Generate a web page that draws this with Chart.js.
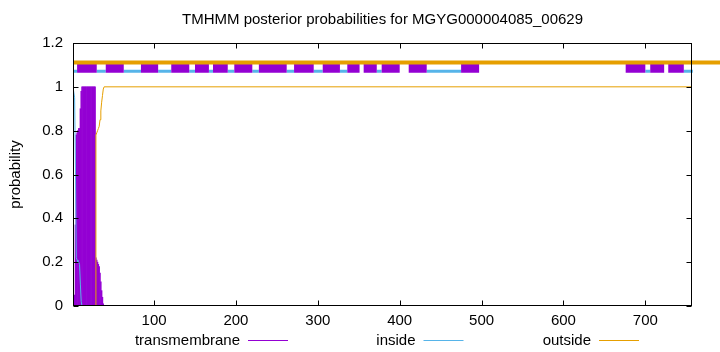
<!DOCTYPE html>
<html>
<head>
<meta charset="utf-8">
<script src="https://cdn.jsdelivr.net/npm/chart.js@4"></script>
<style>
  html, body { margin: 0; padding: 0; background: #fff; }
  #wrap { width: 720px; height: 352px; position: relative; }
</style>
</head>
<body>
<div id="wrap"><canvas id="tmhmmChart"></canvas></div>
<script>
// posterior probabilities, residue positions
const tmResidues = [1, 2, 3, 4, 5, 6, 7, 8, 9, 10, 11, 12, 13, 14, 15, 16, 17, 18, 19, 20,
    21, 22, 23, 24, 25, 26, 27, 28, 29, 30, 31, 32, 33, 34, 35, 36, 37, 38, 39, 40];
const tmProb = [0, 0.02, 0.05, 0.37, 0.78, 0.79, 0.8, 0.81, 0.81, 0.9, 0.98, 1, 1, 1, 1, 1, 1, 1, 1, 1,
    1, 1, 1, 1, 1, 1, 1, 1, 0.22, 0.21, 0.2, 0.19, 0.18, 0.15, 0.11, 0.07, 0.04, 0.01, 0, 0];

const insideX = [1, 2, 3, 4, 5, 6, 7, 8, 9, 10, 11, 12, 757];
const insideProb = [1, 1, 0.95, 0.63, 0.22, 0.21, 0.2, 0.2, 0.19, 0.1, 0.02, 0, 0];

const outsideX = [1, 28, 29, 30, 31, 32, 33, 34, 35, 36, 37, 38, 39, 757];
const outsideProb = [0, 0, 0.78, 0.79, 0.8, 0.81, 0.82, 0.85, 0.89, 0.93, 0.96, 0.99, 1, 1];

// predicted topology strips at the top
const tmSegments = [[6, 30], [41, 63], [84, 105], [121, 143], [150, 167], [172, 190], [198, 220],
    [228, 262], [271, 295], [306, 327], [336, 351], [356, 372], [378, 400], [411, 433], [475, 497],
    [676, 700], [706, 723], [728, 747], [758, 777], [781, 800]];
const insideSegments = [[1, 6], [30, 41], [63, 84], [105, 121], [143, 150], [167, 172], [190, 198],
    [220, 228], [262, 271], [295, 306], [327, 336], [372, 378], [433, 475], [700, 706], [747, 758]];
const outsideSegments = [[1, 800]];

const xTicks = [100, 200, 300, 400, 500, 600, 700];
const yTicks = [0, 0.2, 0.4, 0.6, 0.8, 1, 1.2];
const legendLabels = ["transmembrane", "inside", "outside"];
const chartTitle = "TMHMM posterior probabilities for MGYG000004085_00629";

const PURPLE = "#9400d3", BLUE = "#56b4e9", ORANGE = "#e69f00";
const FONT = { family: "'Liberation Sans', Arial, sans-serif", size: 15 };

function pairs(xs, ys) {
    return xs.map((x, i) => ({ x: x, y: ys[i] }));
}

function strip(segs, level) {
    const pts = [];
    segs.forEach(([a, b]) => {
        pts.push({ x: a, y: level }, { x: b, y: level }, { x: b, y: null });
    });
    return pts;
}

const gnuplotFrame = {
    id: "gnuplotFrame",
    afterDatasetsDraw(chart) {
        const { ctx, chartArea: ca, scales } = chart;
        const l = Math.round(ca.left) + 0.5, r = Math.round(ca.right) - 0.5;
        const t = Math.round(ca.top) + 0.5, b = Math.round(ca.bottom) - 0.5;
        ctx.save();
        ctx.strokeStyle = "#000";
        ctx.lineWidth = 1;
        ctx.beginPath();
        yTicks.forEach(v => {
            const y = Math.round(scales.y.getPixelForValue(v)) + 0.5;
            ctx.moveTo(l, y); ctx.lineTo(l + 5, y);
            ctx.moveTo(r, y); ctx.lineTo(r - 5, y);
        });
        xTicks.forEach(v => {
            const x = Math.round(scales.x.getPixelForValue(v)) + 0.5;
            ctx.moveTo(x, b); ctx.lineTo(x, b - 5);
            ctx.moveTo(x, t); ctx.lineTo(x, t + 5);
        });
        ctx.stroke();
        ctx.strokeRect(l, t, r - l, b - t);
        ctx.restore();
    },
    afterDraw(chart) {
        const { ctx, chartArea: ca } = chart;
        const colors = [PURPLE, BLUE, ORANGE];
        ctx.save();
        ctx.font = FONT.size + "px " + FONT.family;
        ctx.fillStyle = "#000";
        ctx.textAlign = "center";
        ctx.textBaseline = "middle";
        ctx.fillText(chartTitle, (ca.left + ca.right) / 2, 20);
        ctx.textAlign = "right";
        legendLabels.forEach((label, i) => {
            const x0 = 248 + i * 175.5;
            ctx.fillStyle = "#000";
            ctx.fillText(label, x0 - 8, 341);
            ctx.strokeStyle = colors[i];
            ctx.lineWidth = 1;
            ctx.beginPath();
            ctx.moveTo(x0, 340.5);
            ctx.lineTo(x0 + 40, 340.5);
            ctx.stroke();
        });
        ctx.restore();
    }
};

const ctx = document.getElementById("tmhmmChart").getContext("2d");

new Chart(ctx, {
    type: "line",
    data: {
        datasets: [
            {
                label: "outside strip",
                data: strip(outsideSegments, 1.111),
                borderColor: ORANGE, borderWidth: 4, borderCapStyle: "butt",
                pointRadius: 0, spanGaps: false, clip: false, order: 3
            },
            {
                label: "tm strip",
                data: strip(tmSegments, 1.085),
                borderColor: PURPLE, borderWidth: 9, borderCapStyle: "butt",
                pointRadius: 0, spanGaps: false, clip: false, order: 4
            },
            {
                label: "inside strip",
                data: strip(insideSegments, 1.071),
                borderColor: BLUE, borderWidth: 3, borderCapStyle: "butt",
                pointRadius: 0, spanGaps: false, clip: false, order: 5
            },
            {
                label: "outside",
                data: pairs(outsideX, outsideProb),
                borderColor: ORANGE, borderWidth: 1, pointRadius: 0, order: 6
            },
            {
                label: "inside",
                data: pairs(insideX, insideProb),
                borderColor: BLUE, borderWidth: 1, pointRadius: 0, order: 7
            },
            {
                type: "bar",
                label: "transmembrane",
                data: pairs(tmResidues, tmProb),
                backgroundColor: PURPLE,
                barPercentage: 1, categoryPercentage: 1, order: 8
            }
        ]
    },
    options: {
        responsive: true,
        maintainAspectRatio: false,
        animation: false,
        layout: { padding: { left: 0, right: 28, top: 43, bottom: 0 } },
        plugins: {
            legend: { display: false },
            tooltip: { enabled: false },
            title: { display: false }
        },
        scales: {
            x: {
                type: "linear", min: 1, max: 757, offset: false,
                grid: { display: false, drawTicks: false },
                border: { display: false },
                ticks: { color: "#000", font: FONT, padding: 6, maxRotation: 0, autoSkip: false },
                afterBuildTicks: s => { s.ticks = xTicks.map(v => ({ value: v })); },
                afterFit: s => { s.height = 46; }
            },
            y: {
                min: 0, max: 1.2,
                grid: { display: false, drawTicks: false },
                border: { display: false },
                ticks: {
                    color: "#000", font: FONT, padding: 10,
                    callback: v => String(+v.toFixed(1))
                },
                afterBuildTicks: s => { s.ticks = yTicks.map(v => ({ value: v })); },
                afterFit: s => { s.width = 73; },
                title: {
                    display: true, text: "probability", color: "#000",
                    font: FONT, padding: { top: 7, bottom: 0 }
                }
            }
        }
    },
    plugins: [gnuplotFrame]
});
</script>
</body>
</html>
